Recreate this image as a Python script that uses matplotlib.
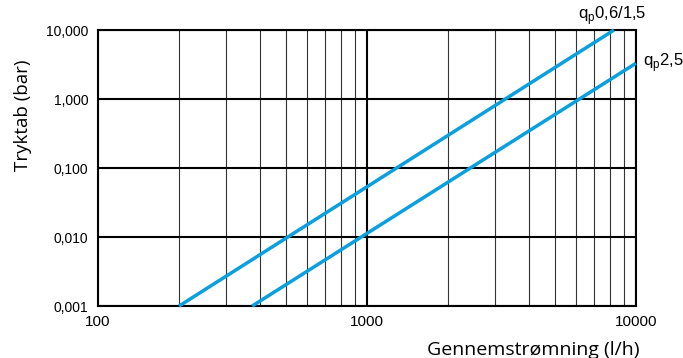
import matplotlib
matplotlib.use('Agg')
import matplotlib.pyplot as plt
from matplotlib.ticker import FixedLocator

# (end points of the two straight lines in log-log)
flow_q06 = [200, 8290]
dp_q06 = [0.001, 10.0]
flow_q25 = [374, 10000]
dp_q25 = [0.001, 3.3]

x_ticks = [100, 1000, 10000]
x_labels = ["100", "1000", "10000"]
y_ticks = [0.001, 0.01, 0.1, 1, 10]
y_labels = ["0,001", "0,010", "0,100", "1,000", "10,000"]
x_minor = [200, 300, 400, 500, 600, 700, 800, 900,
           2000, 3000, 4000, 5000, 6000, 7000, 8000, 9000]

blue = "#0a9fdd"

fig = plt.figure(figsize=(6.83, 3.58), dpi=100)
ax = fig.add_axes([0.1435, 0.145, 0.7875, 0.771])
ax.set_xscale("log")
ax.set_yscale("log")
ax.set_xlim(100, 10000)
ax.set_ylim(0.001, 10)

# grid
for v in x_minor:
    ax.axvline(v, color="#333333", lw=0.8, zorder=1)
for v in x_ticks:
    ax.axvline(v, color="black", lw=1.5, zorder=1)
for v in y_ticks:
    ax.axhline(v, color="black", lw=1.5, zorder=1)

ax.plot(flow_q06, dp_q06, color=blue, lw=2.5, solid_capstyle="butt", zorder=3, clip_on=False)
ax.plot(flow_q25, dp_q25, color=blue, lw=2.5, solid_capstyle="butt", zorder=3, clip_on=False)

ax.xaxis.set_minor_locator(FixedLocator([]))
ax.yaxis.set_minor_locator(FixedLocator([]))
ax.set_xticks(x_ticks)
ax.set_xticklabels(x_labels, fontsize=11, family="Liberation Sans")
ax.set_yticks(y_ticks)
ax.set_yticklabels(y_labels, fontsize=10, family="Liberation Sans")
ax.tick_params(length=0)
ax.tick_params(axis="y", pad=7)
ax.tick_params(axis="x", pad=6.5)

for s in ax.spines.values():
    s.set_linewidth(1.5)

fig.text(0.034, 0.679, "Tryktab (bar)", rotation=90, ha="center", va="center",
         fontsize=13.5, family="Open Sans")
fig.text(0.937, 0.022, "Gennemstrømning (l/h)", ha="right", va="center",
         fontsize=14, family="Open Sans")

ax.text(8200, 11.0, r"q$_\mathregular{p}$0,6/1,5", ha="center", va="bottom",
        fontsize=12, family="Liberation Sans")
ax.text(10600, 3.4, r"q$_\mathregular{p}$2,5", ha="left", va="center",
        fontsize=12, family="Liberation Sans")

fig.savefig("out.png", dpi=100)
